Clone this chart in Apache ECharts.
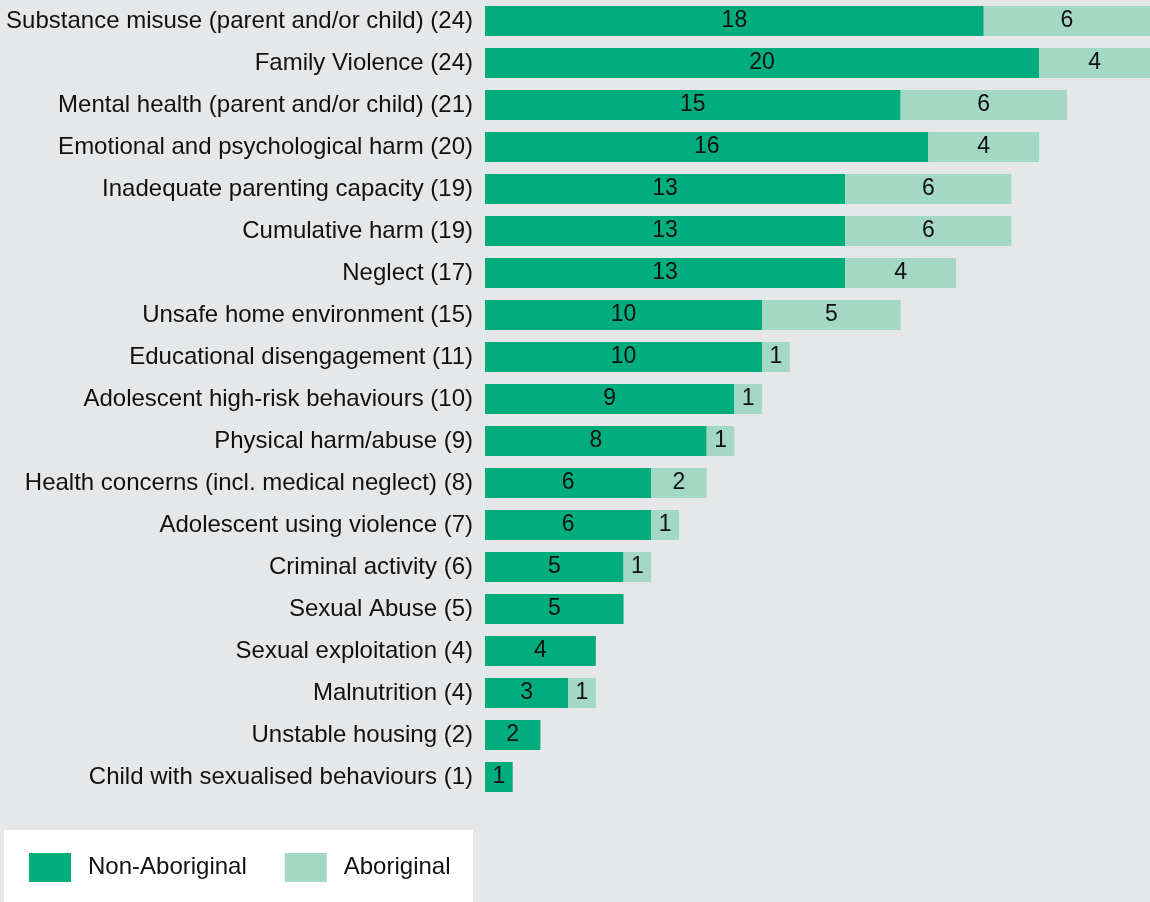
<!DOCTYPE html>
<html>
<head>
<meta charset="utf-8">
<script src="https://cdn.jsdelivr.net/npm/echarts@6/dist/echarts.min.js"></script>
<style>
  html, body { margin: 0; padding: 0; background: #e6e7e9; }
  #chart { width: 1150px; height: 902px; }
</style>
</head>
<body>
<div id="chart"></div>
<script>
// Risk factors, with total count shown in the label
const categories = [
  'Substance misuse (parent and/or child) (24)',
  'Family Violence (24)',
  'Mental health (parent and/or child) (21)',
  'Emotional and psychological harm (20)',
  'Inadequate parenting capacity (19)',
  'Cumulative harm (19)',
  'Neglect (17)',
  'Unsafe home environment (15)',
  'Educational disengagement (11)',
  'Adolescent high-risk behaviours (10)',
  'Physical harm/abuse (9)',
  'Health concerns (incl. medical neglect) (8)',
  'Adolescent using violence (7)',
  'Criminal activity (6)',
  'Sexual Abuse (5)',
  'Sexual exploitation (4)',
  'Malnutrition (4)',
  'Unstable housing (2)',
  'Child with sexualised behaviours (1)'
];
const nonAboriginal = [18, 20, 15, 16, 13, 13, 13, 10, 10, 9, 8, 6, 6, 5, 5, 4, 3, 2, 1];
const aboriginal    = [6, 4, 6, 4, 6, 6, 4, 5, 1, 1, 1, 2, 1, 1, 0, 0, 1, 0, 0];
const seriesNames = ['Non-Aboriginal', 'Aboriginal'];

const FONT = 'Arial, "Liberation Sans", Helvetica, sans-serif';
const chart = echarts.init(document.getElementById('chart'));

const valueLabel = {
  show: true,
  position: 'inside',
  color: '#111',
  fontSize: 23,
  fontFamily: FONT,
  formatter: p => (p.value > 0 ? p.value : '')
};

chart.setOption({
  backgroundColor: '#e6e7e9',
  animation: false,
  graphic: [{
    type: 'rect',
    left: 4, top: 830,
    shape: { width: 469, height: 72 },
    style: { fill: '#ffffff' },
    z: 0
  }],
  legend: {
    left: 29, top: 853,
    padding: 0,
    itemWidth: 42, itemHeight: 29,
    itemGap: 38,
    icon: 'rect',
    textStyle: { fontSize: 24, color: '#111', fontFamily: FONT, padding: [0, 0, 0, 12] },
    data: seriesNames,
    z: 5
  },
  grid: { left: 485, right: 0, top: 0, bottom: 104 },
  xAxis: {
    type: 'value', min: 0, max: 24,
    show: false
  },
  yAxis: {
    type: 'category',
    inverse: true,
    data: categories,
    axisLine: { show: false },
    axisTick: { show: false },
    axisLabel: { fontSize: 24, color: '#111', fontFamily: FONT, margin: 12 }
  },
  series: [
    {
      name: seriesNames[0], type: 'bar', stack: 'total',
      data: nonAboriginal, barWidth: 30,
      itemStyle: { color: '#00ad7c' },
      label: valueLabel
    },
    {
      name: seriesNames[1], type: 'bar', stack: 'total',
      data: aboriginal, barWidth: 30,
      itemStyle: { color: '#a3d9c4' },
      label: valueLabel
    }
  ]
});
</script>
</body>
</html>
